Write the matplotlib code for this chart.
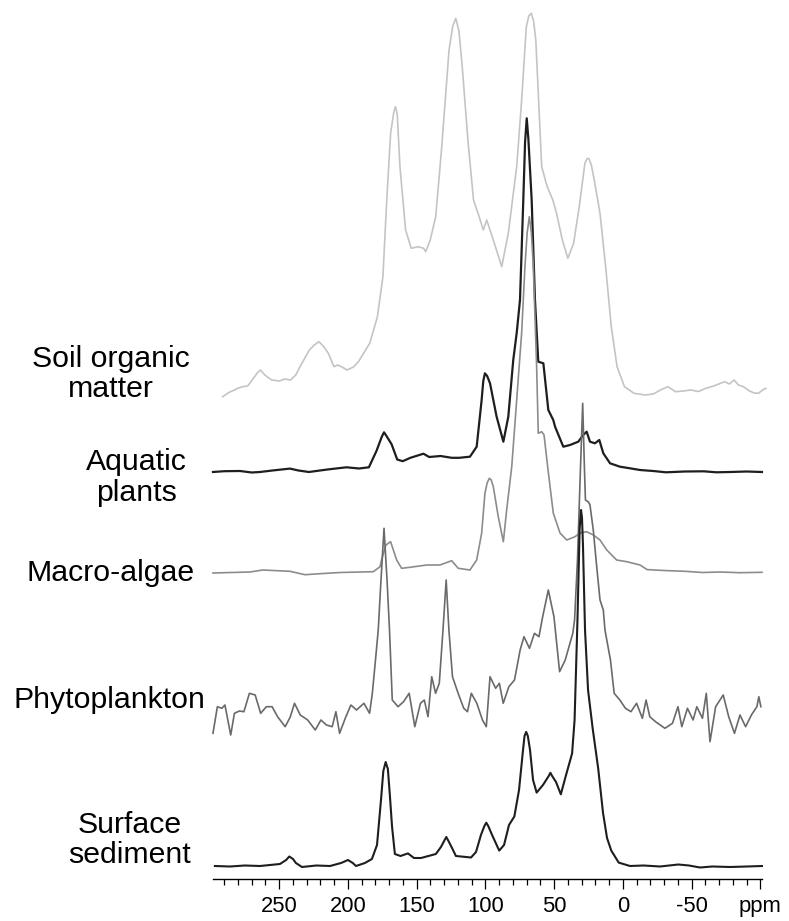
import matplotlib
matplotlib.use("Agg")
import matplotlib.pyplot as plt

plt.rcParams['font.family'] = ['Liberation Sans', 'DejaVu Sans']

# 13C CP-MAS spectra, chemical shift (ppm) vs intensity (arbitrary units)
soil_ppm = [291.2, 286.0, 282.5, 280.3, 276.0, 273.0, 270.6, 266.0, 263.7, 260.5, 255.5, 250.0,
            246.0, 241.8, 238.0, 234.9, 228.1, 224.5, 221.2, 218.0, 214.3, 210.2, 207.5, 204.8,
            200.6, 196.0, 192.4, 184.2, 178.6, 174.6, 171.8, 169.0, 166.8, 165.5, 164.2, 162.2,
            158.1, 154.0, 149.1, 145.0, 143.5, 140.2, 136.2, 132.0, 126.5, 123.8, 121.6, 119.3,
            116.9, 112.8, 108.7, 104.6, 101.6, 99.1, 94.3, 88.2, 83.4, 77.3, 73.7, 70.3, 68.5,
            66.7, 65.0, 63.4, 59.1, 55.1, 51.0, 48.3, 44.1, 40.1, 35.9, 31.8, 27.7, 26.3, 24.9,
            23.0, 20.9, 16.7, 12.6, 8.5, 4.3, -1.1, -8.0, -16.2, -22.0, -27.2, -32.7, -38.2,
            -44.0, -49.2, -55.0, -60.2, -66.0, -73.9, -77.5, -80.8, -84.0, -87.6, -92.0, -95.5,
            -98.6, -101.5, -104.0]
soil_int = [0.3, 5, 7, 8.7, 10.5, 11, 15.3, 24, 27, 22, 17, 16,
            18, 17, 22, 30.3, 47, 52, 55.3, 51, 43.7, 30.3, 32, 30.3,
            27, 30, 35.3, 53.7, 80.3, 120.3, 197, 263.7, 284, 290.3, 283, 230.3,
            167, 148.7, 150.3, 148.7, 145.3, 157, 180.3, 247, 347, 371, 378.7, 366,
            330.3, 257, 197, 180.3, 167, 177, 157, 130.3, 163.7, 230.3, 297, 370.3, 381,
            383.7, 376, 357, 230.3, 210.3, 197, 183.7, 157, 138.7, 153.7, 190.3, 233.7, 238, 238.7,
            232, 217, 183.7, 130.3, 70.3, 30.3, 10.3, 3.7, 2, 3, 7, 10.3, 5.3,
            6, 7, 5.5, 8.7, 11, 15.3, 13, 17, 12, 10.3, 6, 4,
            3.7, 7, 8.7]

aqua_ppm = [298.2, 290.0, 278.5, 270.0, 264.0, 255.0, 242.2, 236.0, 228.4, 215.0, 201.1, 192.0,
            184.8, 179.3, 175.5, 173.8, 172.0, 168.3, 164.2, 160.2, 154.6, 145.1, 141.0, 132.7,
            124.6, 119.1, 111.3, 106.4, 102.8, 101.6, 100.4, 98.8, 96.7, 91.9, 87.0, 83.4, 79.8,
            77.3, 74.9, 72.5, 71.2, 70.0, 68.8, 66.4, 64.0, 61.6, 57.9, 54.3, 50.7, 49.4, 43.4,
            38.5, 32.5, 28.9, 26.4, 24.0, 20.4, 17.2, 14.3, 9.4, 2.2, -5.1, -12.4, -22.0, -31.3,
            -45.0, -58.7, -68.0, -77.9, -90.0, -101.1]
aqua_int = [0, 0.8, 1, -0.5, 0, 1.5, 3.4, 1.5, 0, 2.5, 4.7, 3.5,
            4.7, 21, 35, 39.7, 36, 27.8, 12.5, 10.8, 14.2, 18.3, 15, 16,
            14.2, 14.2, 15.3, 25.3, 72, 91, 98.7, 96, 88.7, 55.3, 30.3, 55.3, 112,
            139, 172, 272, 330, 353.7, 333, 272, 172, 110.3, 108.7, 62, 52, 45.3, 25.3,
            27, 30.3, 37, 40.3, 30.3, 28.7, 32, 18.7, 8.7, 5.3, 3.7, 2, 1, -0.3,
            0.5, 0.7, -0.3, 0, 0.5, 0]

macro_ppm = [298.2, 285.0, 271.3, 262.0, 242.2, 231.3, 218.0, 205.8, 181.6, 176.7, 175.6, 172.4,
             169.0, 164.6, 161.0, 154.9, 142.8, 133.1, 124.6, 119.8, 111.3, 106.4, 102.8, 100.4,
             98.8, 97.2, 95.8, 94.3, 90.7, 87.0, 84.6, 80.9, 77.3, 73.7, 71.3, 69.7, 68.1, 66.6,
             65.2, 62.8, 61.6, 59.1, 57.4, 54.5, 50.7, 45.8, 40.9, 34.9, 31.3, 26.4, 21.6, 16.7,
             11.8, 4.6, -2.7, -12.4, -17.6, -30.0, -45.0, -58.0, -70.6, -85.0, -101.1]
macro_int = [0, 0.5, 1, 3, 1.7, -1.7, -0.5, 0.5, 1.3, 6.3, 13, 28,
             31.3, 13, 4.7, 5.7, 8, 8, 12.3, 4.7, 3, 13, 39.7, 79.7,
             90, 94.7, 93, 86.3, 56.3, 31.3, 63, 106.3, 173, 240, 306.3, 340, 356.3, 340,
             306.3, 206.3, 139.7, 141.3, 138, 103, 60, 40, 33, 36.3, 40, 41.3, 38, 33,
             23, 13, 11.3, 8, 3.4, 2.5, 1.7, 0.5, 1, 0.3, 0.7]

phyto_ppm = [298.2, 295.0, 291.7, 289.5, 285.3, 282.6, 279.0, 275.7, 271.7, 267.5, 263.5, 259.4,
             255.2, 251.2, 245.7, 242.0, 238.9, 234.7, 229.3, 223.8, 219.7, 215.7, 211.5, 208.8,
             206.1, 202.0, 197.9, 193.8, 188.4, 184.3, 182.3, 180.0, 178.0, 176.0, 173.8, 171.6,
             169.8, 167.8, 163.6, 159.6, 155.5, 151.4, 147.3, 144.5, 141.8, 139.1, 136.3, 133.6,
             130.9, 128.6, 126.6, 124.0, 119.9, 115.8, 113.1, 110.3, 106.3, 102.2, 99.4, 96.7,
             92.6, 89.9, 87.1, 83.0, 78.9, 74.8, 72.0, 68.0, 64.4, 61.1, 58.4, 54.3, 50.2, 46.1,
             42.0, 36.5, 35.2, 33.1, 31.2, 29.3, 28.0, 27.3, 25.1, 24.0, 21.6, 19.1, 16.7, 14.3,
             13.1, 9.1, 6.4, 2.3, -1.8, -5.8, -9.9, -14.1, -16.8, -19.5, -23.7, -30.5, -36.0,
             -40.0, -42.8, -46.9, -51.0, -53.7, -57.8, -60.6, -63.3, -67.4, -72.9, -76.9, -81.1,
             -85.1, -89.2, -93.4, -97.4, -98.8, -100.3]
phyto_int = [-18.3, 8.3, 6.7, 10, -20, 1.7, 4, 3.3, 21.7, 20, 1.7, 8.3,
             8.3, -1.7, -11.7, -2, 11.7, 0, -5, -15, -5, -10, -11.7, 3.3,
             -18.3, -3.3, 10, 5, 11.7, 1.7, 21.7, 55, 85, 135, 186.7, 135,
             85, 15, 8.3, 13.3, 21.7, -11.7, 11.7, 15, -1.7, 38.3, 21.7, 31.7,
             85, 135, 85, 38.3, 21.7, 6.7, 3.3, 21.7, 11.7, -5, -11.7, 38.3,
             26.7, 31.7, 11.7, 28.3, 35, 65, 78.3, 66.7, 81.7, 78.3, 98.3, 125, 98.3, 43.3,
             55, 81.7, 95, 155, 235, 311.7, 245, 215, 213, 210, 185, 148.3, 115, 105,
             85, 55, 21.7, 15, 6.7, 3.3, 11.7, -3.3, 15, -1.7, -6.7, -13.3, -8.3,
             8.3, -11.7, 6.7, -5, 8.3, -3.3, 21.7, -26.7, 8.3, 20, -1.7, -18.3,
             0, -11.7, 0, 8.3, 18.3, 8.3]

sed_ppm = [296.8, 285.8, 275.0, 264.0, 249.5, 245.0, 242.7, 240.0, 237.9, 233.5, 223.0, 213.1,
           205.0, 200.0, 196.5, 194.2, 187.7, 182.6, 178.9, 176.0, 174.3, 172.6, 171.0, 169.5,
           168.0, 165.9, 161.8, 156.4, 152.0, 146.9, 136.1, 132.4, 129.7, 128.5, 127.3, 124.7,
           121.5, 110.5, 106.9, 103.3, 100.8, 99.4, 98.0, 95.2, 90.0, 86.5, 82.9, 79.0, 75.6,
           72.7, 71.6, 70.4, 69.2, 67.6, 65.4, 62.8, 58.2, 54.0, 52.8, 51.5, 48.7, 45.2, 41.4,
           37.0, 35.2, 33.1, 31.5, 30.5, 29.8, 29.1, 27.6, 25.4, 22.1, 18.0, 14.5, 11.6, 8.5,
           3.1, -5.1, -15.0, -27.0, -40.3, -48.0, -56.0, -65.0, -77.9, -90.0, -101.1]
sed_int = [0, -0.5, 0.5, 0, 2, 6, 9.5, 7, 3, -1, 0.5, 0,
           3, 6, 3, 0, 3, 7, 21, 66, 95, 104, 97, 70,
           40, 12, 10, 12.6, 8, 8, 12, 19, 26, 29, 26, 19,
           10, 8.5, 14, 31, 40, 43.3, 40, 31, 15.4, 21, 41, 49.5, 76,
           116, 130, 134.1, 130, 116, 86, 73.4, 81, 90, 93.2, 90, 84, 71.7, 91,
           112.6, 146, 246, 338, 356, 348, 321, 236, 176, 138.2, 97.3, 53, 28, 15.4,
           3.4, 0, 0.5, -0.5, 1.5, 0.5, -1.5, -0.5, -1, -0.5, 0]

labels = ["Soil organic\nmatter", "Aquatic\nplants", "Macro-algae", "Phytoplankton", "Surface\nsediment"]
offsets = [482.3, 407.3, 306.3, 164.3, 13.3]
label_x = [372.4, 353.9, 372.8, 373.2, 358.6]
label_y = [505.3, 401.8, 306.3, 179.3, 39.3]

spectra = [(soil_ppm, soil_int, '#c4c4c4', 1.2),
           (aqua_ppm, aqua_int, '#1e1e1e', 1.6),
           (macro_ppm, macro_int, '#8c8c8c', 1.2),
           (phyto_ppm, phyto_int, '#6a6a6a', 1.2),
           (sed_ppm, sed_int, '#1e1e1e', 1.5)]

fig = plt.figure(figsize=(7.89, 9.21), dpi=100)
ax = fig.add_axes([212.7 / 789, 41.7 / 921, 549.0 / 789, 879.3 / 921])

for (ppm, inten, col, lw), off in zip(spectra, offsets):
    ax.plot(ppm, [v + off for v in inten], color=col, lw=lw,
            solid_joinstyle='round', clip_on=False)

for txt, tx, ty in zip(labels, label_x, label_y):
    ax.text(tx, ty, txt, ha='center', va='center', fontsize=21.8,
            linespacing=1.1, clip_on=False)

ax.set_xlim(298.4, -100.9)
ax.set_ylim(0, 879.3)
for s in ['top', 'right', 'left']:
    ax.spines[s].set_visible(False)
ax.spines['bottom'].set_linewidth(1.0)
ax.set_yticks([])

major = [250, 200, 150, 100, 50, 0, -50, -100]
ax.set_xticks(major)
ax.set_xticklabels(['250', '200', '150', '100', '50', '0', '-50', 'ppm'])
ax.set_xticks(list(range(290, -101, -10)), minor=True)
ax.tick_params(axis='x', which='major', length=7.2, width=0.9, labelsize=15.8, pad=5, direction='out')
ax.tick_params(axis='x', which='minor', length=4.2, width=0.9, direction='out')

fig.savefig("out.png", dpi=100)
